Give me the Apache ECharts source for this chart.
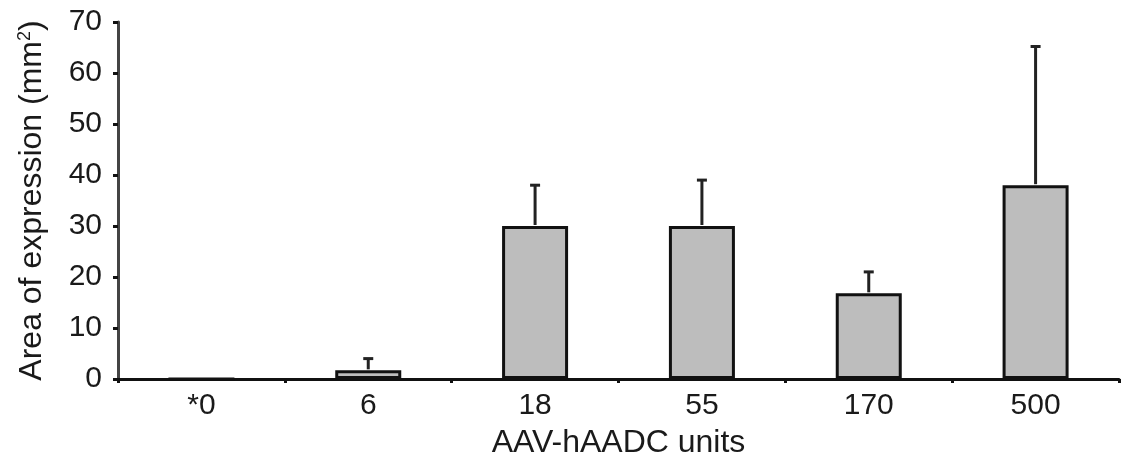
<!DOCTYPE html>
<html>
<head>
<meta charset="utf-8">
<script src="https://cdn.jsdelivr.net/npm/echarts@6/dist/echarts.min.js"></script>
<style>
  html, body { margin: 0; padding: 0; background: #fff; }
  #chart { width: 1124px; height: 466px; }
</style>
</head>
<body>
<div id="chart"></div>
<script>
  // 数据
  const categories = ['*0', '6', '18', '55', '170', '500'];
  const means = [0, 1.7, 30, 30, 16.8, 38];
  const upperErr = [0, 4, 38, 39, 21, 65.2];
  const yTicks = [0, 10, 20, 30, 40, 50, 60, 70];

  const chart = echarts.init(document.getElementById('chart'));
  const font = 'Liberation Sans, Arial, sans-serif';
  const ink = '#1a1a1a';

  const option = {
    animation: false,
    grid: { left: 118, right: 5, top: 22, bottom: 87 },
    xAxis: {
      type: 'category',
      data: categories,
      name: 'AAV-hAADC units',
      nameLocation: 'middle',
      nameGap: 48,
      nameTextStyle: { color: ink, fontSize: 32, fontFamily: font },
      axisLine: { lineStyle: { color: '#111', width: 3 } },
      axisTick: { show: true, length: 4, lineStyle: { color: '#111', width: 3 } },
      axisLabel: { color: ink, fontSize: 30, fontFamily: font, margin: 12 }
    },
    yAxis: {
      type: 'value',
      min: yTicks[0],
      max: yTicks[yTicks.length - 1],
      interval: 10,
      name: '{t|Area of expression (mm}{s|2}{t|)}',
      nameLocation: 'middle',
      nameGap: 70,
      nameTextStyle: {
        color: ink, fontFamily: font,
        rich: {
          t: { fontSize: 32, fontFamily: font, color: ink },
          s: { fontSize: 18, fontFamily: font, color: ink, verticalAlign: 'top', padding: [0, 0, 14, 0] }
        }
      },
      axisLine: { show: true, lineStyle: { color: '#444', width: 3 } },
      axisTick: { show: true, length: 5, lineStyle: { color: '#111', width: 3 } },
      axisLabel: { color: ink, fontSize: 30, fontFamily: font, margin: 16 },
      splitLine: { show: false }
    },
    series: [
      {
        type: 'bar',
        data: means,
        barWidth: 66,
        itemStyle: { color: '#bdbdbd', borderColor: '#111', borderWidth: 3 },
        z: 2
      },
      {
        type: 'custom',
        z: 3,
        data: categories.map((c, i) => [i, means[i], upperErr[i]]),
        renderItem: function(params, api) {
          const i = api.value(0);
          if (api.value(2) <= api.value(1)) return null;
          const base = api.coord([i, api.value(1)]);
          const top = api.coord([i, api.value(2)]);
          const hw = 5;
          return {
            type: 'group',
            children: [
              { type: 'line', shape: { x1: base[0], y1: base[1] - 1, x2: top[0], y2: top[1] },
                style: { stroke: '#222', lineWidth: 3 } },
              { type: 'line', shape: { x1: top[0] - hw, y1: top[1], x2: top[0] + hw, y2: top[1] },
                style: { stroke: '#222', lineWidth: 3 } }
            ]
          };
        }
      }
    ]
  };
  chart.setOption(option);
</script>
</body>
</html>
